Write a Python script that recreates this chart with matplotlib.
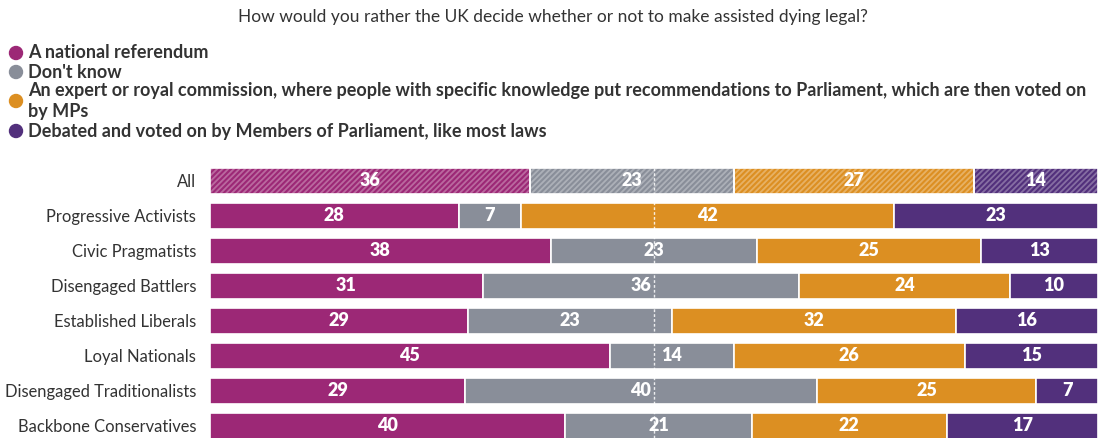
import matplotlib
matplotlib.use("Agg")
import matplotlib.pyplot as plt
import numpy as np
from matplotlib.colors import to_rgb

title = "How would you rather the UK decide whether or not to make assisted dying legal?"
categories = ["All", "Progressive Activists", "Civic Pragmatists", "Disengaged Battlers",
              "Established Liberals", "Loyal Nationals", "Disengaged Traditionalists",
              "Backbone Conservatives"]
series_names = ["A national referendum", "Don't know",
                "An expert or royal commission, where people with specific knowledge put recommendations to Parliament, which are then voted on\nby MPs",
                "Debated and voted on by Members of Parliament, like most laws"]
referendum = [36, 28, 38, 31, 29, 45, 29, 40]
dont_know = [23, 7, 23, 36, 23, 14, 40, 21]
commission = [27, 42, 25, 24, 32, 26, 25, 22]
mps = [14, 23, 13, 10, 16, 15, 7, 17]
colors = ["#9C2876", "#898E99", "#DC8F22", "#52307C"]

plt.rcParams['font.family'] = ['Lato', 'DejaVu Sans']
plt.rcParams['hatch.linewidth'] = 1.5

fig = plt.figure(figsize=(10.98, 4.38), dpi=100)
W, H = 1098, 438
ax_left, ax_right = 210, 1098
ax_top, ax_bottom = 160, 438
ax = fig.add_axes([ax_left / W, 1 - ax_bottom / H, (ax_right - ax_left) / W, (ax_bottom - ax_top) / H])

data = np.array([referendum, dont_know, commission, mps], dtype=float)
totals = data.sum(axis=0)
shares = data / totals * 100
y = np.arange(len(categories))
bar_h = 0.77

def lighten(c, f):
    r, g, b = to_rgb(c)
    return (r + (1 - r) * f, g + (1 - g) * f, b + (1 - b) * f)

left = np.zeros(len(categories))
for k in range(4):
    for i in range(len(categories)):
        w = shares[k, i]
        if i == 0:
            ax.barh(y[i], w, left=left[i], height=bar_h, color=lighten(colors[k], 0.3),
                    edgecolor=colors[k], linewidth=0, hatch='//////', zorder=2)
            ax.barh(y[i], w, left=left[i], height=bar_h, fill=False,
                    edgecolor='white', linewidth=1.2, zorder=3)
        else:
            ax.barh(y[i], w, left=left[i], height=bar_h, color=colors[k],
                    edgecolor='white', linewidth=1.2, zorder=2)
        ax.text(left[i] + w / 2, y[i], f"{int(data[k, i])}", ha='center', va='center',
                color='white', fontsize=13, fontweight='heavy', zorder=5)
    left += shares[k]

ax.axvline(50, color='white', linestyle=(0, (2, 1.5)), linewidth=1, alpha=0.85, zorder=4)

ax.set_xlim(0, 100)
ax.set_ylim(7.343, -0.6)
ax.set_yticks(y)
ax.set_yticklabels(categories, fontsize=11.9, color='#333333')
ax.tick_params(axis='y', length=0, pad=10)
ax.set_xticks([])
for s in ax.spines.values():
    s.set_visible(False)

fig.text(553 / W, 1 - 17 / H, title, ha='center', va='center', fontsize=12.5, color='#333333')

legend_y = [53, 72, 101, 131]
for k in range(4):
    cy = legend_y[k]
    fig.patches.append(matplotlib.patches.Ellipse((16 / W, 1 - cy / H), 13 / W, 13 / H,
                                                  transform=fig.transFigure, color=colors[k]))
    fig.text(28 / W, 1 - cy / H, series_names[k], ha='left', va='center', fontsize=13,
             fontweight='bold', color='#333333', linespacing=1.25)

fig.savefig("out.png", dpi=100)
